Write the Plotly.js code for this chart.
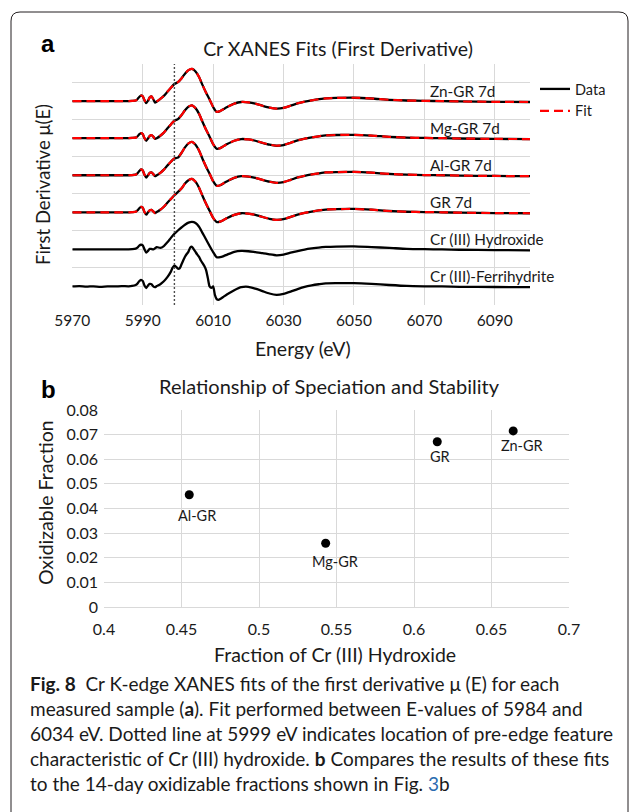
<!DOCTYPE html>
<html><head><meta charset="utf-8">
<script src="https://cdn.plot.ly/plotly-3.0.1.min.js"></script>
<style>html,body{margin:0;padding:0;background:#fff;}#chart{width:630px;height:812px;}</style>
</head><body><div id="chart"></div>
<script>
// ---------- Panel a data (first derivative, arbitrary units) ----------
const energy = [5970,5975,5980,5984,5986,5987,5988,5988.5,5989,5989.5,5990,5990.5,5991,5991.5,5992,5992.5,5993,5993.5,5994,
  5995,5996,5997,5998,5999,6000,6001,6002,6003,6004,6005,6006,6007,6008,6009,6010,6011,6012,6013,6014,
  6016,6018,6020,6022,6024,6026,6028,6030,6032,6034,6036,6038,6040,6042,6045,6050,6055,6060,6065,6070,6075,6080,6090,6100];
const znGR7d = [0,0,0,0,0,0.01,0.03,0.1,0.22,0.3,0.26,0.05,-0.11,0.02,0.2,0.25,0.1,-0.08,-0.02,
  0.12,0.28,0.5,0.72,0.92,1.02,1.22,1.48,1.67,1.74,1.6,1.3,0.86,0.45,0.08,-0.32,-0.58,-0.54,-0.43,-0.32,
  -0.14,-0.05,-0.07,-0.14,-0.25,-0.35,-0.41,-0.37,-0.25,-0.12,-0.03,0.04,0.1,0.15,0.17,0.18,0.14,0.07,0.03,0.01,0,-0.02,-0.04,-0.05];
const mgGR7d = [0,0,0,0,0,0.01,0.03,0.09,0.2,0.27,0.22,0.0,-0.14,-0.02,0.12,0.16,0.08,-0.04,0.0,
  0.13,0.3,0.52,0.74,0.94,1.03,1.24,1.5,1.7,1.77,1.62,1.31,0.87,0.45,0.08,-0.32,-0.57,-0.54,-0.43,-0.32,
  -0.14,-0.05,-0.07,-0.14,-0.25,-0.35,-0.41,-0.37,-0.25,-0.12,-0.03,0.04,0.1,0.15,0.17,0.18,0.14,0.07,0.03,0.01,0,-0.02,-0.04,-0.05];
const alGR7d = [0,0,0,0,0,0.01,0.03,0.1,0.22,0.31,0.26,0.03,-0.13,0.0,0.13,0.15,0.06,-0.05,0.0,
  0.13,0.3,0.52,0.73,0.9,0.95,1.2,1.5,1.72,1.8,1.65,1.33,0.88,0.46,0.08,-0.32,-0.57,-0.54,-0.43,-0.32,
  -0.14,-0.05,-0.07,-0.14,-0.25,-0.35,-0.41,-0.37,-0.25,-0.12,-0.03,0.04,0.1,0.15,0.17,0.18,0.14,0.07,0.03,0.01,0,-0.02,-0.04,-0.05];
const gr7d = [0,0,0,0,0,0.01,0.03,0.1,0.21,0.29,0.25,0.02,-0.13,0.0,0.11,0.13,0.05,-0.04,0.02,
  0.14,0.3,0.52,0.72,0.92,1.1,1.28,1.55,1.73,1.8,1.65,1.33,0.88,0.46,0.08,-0.3,-0.52,-0.5,-0.41,-0.31,
  -0.14,-0.05,-0.07,-0.14,-0.25,-0.35,-0.41,-0.37,-0.25,-0.12,-0.03,0.04,0.1,0.15,0.17,0.18,0.14,0.07,0.03,0.01,0,-0.02,-0.04,-0.05];
// fitted curves (visually coincident with the data)
const znGR7dFit = znGR7d, mgGR7dFit = mgGR7d, alGR7dFit = alGR7d, gr7dFit = gr7d;
const crHydroxide = [0,0,0,0,0,0.01,0.04,0.1,0.2,0.25,0.22,0.0,-0.17,-0.08,0.03,0.02,0.0,0.06,0.12,
  0.08,0.18,0.38,0.62,0.84,1.02,1.18,1.33,1.44,1.48,1.42,1.22,0.88,0.53,0.18,-0.15,-0.42,-0.42,-0.36,-0.28,
  -0.13,-0.08,-0.1,-0.15,-0.2,-0.27,-0.32,-0.28,-0.18,-0.09,-0.01,0.05,0.1,0.13,0.15,0.16,0.12,0.08,0.03,0.01,0,-0.02,-0.04,-0.05];
const energyFerri = [5970,5972,5974,5976,5978,5980,5982,5984,5986,5987,5988,5988.5,5989,5989.5,5990,5990.5,5991,5991.5,5992,5992.5,5993,5993.5,5994,
  5995,5996,5997,5998,5998.5,5999,5999.5,6000,6000.5,6001,6001.5,6002,6002.5,6003,6003.5,6004,6004.5,6005,6005.5,6006,6006.5,6007,6007.5,
  6008,6008.5,6009,6009.5,6010,6010.5,6011,6011.5,6012,6013,6014,6016,6018,6020,6022,6024,6026,6028,6030,6032,6034,6036,6038,6040,6042,
  6045,6050,6055,6060,6065,6070,6075,6080,6090,6100];
const crFerrihydrite = [0,0.02,-0.01,0.01,-0.02,0.01,0,0.02,0.01,0.03,0.08,0.15,0.28,0.36,0.3,0.05,-0.09,0.05,0.14,0.12,0.0,-0.04,0.02,
  0.12,0.28,0.5,0.8,1.02,1.12,1.06,0.96,0.98,1.18,1.4,1.6,1.75,1.88,2.1,2.14,2.0,1.86,1.72,1.6,1.4,1.26,1.1,
  0.88,0.45,0.0,-0.08,0.0,-0.45,-0.68,-0.72,-0.68,-0.55,-0.42,-0.2,-0.04,-0.02,-0.12,-0.25,-0.38,-0.45,-0.4,-0.28,-0.14,-0.02,0.06,0.12,0.17,
  0.18,0.18,0.14,0.08,0.03,0.01,0,-0.02,-0.03,-0.04];
const sampleNames = ['Cr (III)-Ferrihydrite','Cr (III) Hydroxide','GR 7d','Al-GR 7d','Mg-GR 7d','Zn-GR 7d'];
const preEdgeEnergy = 5999;
const energyTicks = [5970,5990,6010,6030,6050,6070,6090];

// ---------- Panel b data ----------
const pointLabels = ['Zn-GR','GR','Al-GR','Mg-GR'];
const fractionCrOH3 = [0.664,0.615,0.455,0.543];
const oxidizableFraction = [0.0715,0.0671,0.0456,0.0259];

// ---------- layout helpers ----------
const W = 630, H = 812;
const px = x => x / W, py = y => 1 - y / H;
const FONT = 'Lato, "Open Sans", sans-serif';
const TXT = '#1a1a1a';
const GRID = '#d9d9d9';

const series = [
  {name: sampleNames[0], x: energyFerri, y: crFerrihydrite, fit: null},
  {name: sampleNames[1], x: energy, y: crHydroxide, fit: null},
  {name: sampleNames[2], x: energy, y: gr7d, fit: gr7dFit},
  {name: sampleNames[3], x: energy, y: alGR7d, fit: alGR7dFit},
  {name: sampleNames[4], x: energy, y: mgGR7d, fit: mgGR7dFit},
  {name: sampleNames[5], x: energy, y: znGR7d, fit: znGR7dFit}
];
const offsetOf = i => 1 + 2 * i;

const traces = [];
series.slice().reverse().forEach((s, k) => {
  const i = series.length - 1 - k;
  const off = offsetOf(i);
  traces.push({x: s.x, y: s.y.map(v => v + off), type: 'scatter', mode: 'lines',
    line: {color: '#000', width: 2.3, shape: 'spline', smoothing: 0.6},
    name: 'Data', legendgroup: 'data', showlegend: i === series.length - 1,
    xaxis: 'x', yaxis: 'y', hoverinfo: 'skip'});
});
series.slice().reverse().forEach((s, k) => {
  const i = series.length - 1 - k;
  if (!s.fit) return;
  const off = offsetOf(i);
  traces.push({x: s.x, y: s.fit.map(v => v + off), type: 'scatter', mode: 'lines',
    line: {color: '#ff0000', width: 2.2, dash: '9px,5px', shape: 'spline', smoothing: 0.6},
    name: 'Fit', legendgroup: 'fit', showlegend: i === series.length - 1,
    xaxis: 'x', yaxis: 'y', hoverinfo: 'skip'});
});
traces.push({x: fractionCrOH3, y: oxidizableFraction, type: 'scatter', mode: 'markers',
  marker: {color: '#000', size: 9}, showlegend: false, xaxis: 'x2', yaxis: 'y2', hoverinfo: 'skip'});

const annotations = [];
series.forEach((s, i) => {
  annotations.push({text: s.name, x: 6070.9, y: offsetOf(i) + 0.56, xref: 'x', yref: 'y',
    xanchor: 'left', yanchor: 'middle', showarrow: false, font: {family: FONT, size: 15.3, color: TXT}});
});
const labelShift = [[9, -15], [3, -15], [8, -21], [9, -18]];
pointLabels.forEach((t, i) => {
  annotations.push({text: t, x: fractionCrOH3[i], y: oxidizableFraction[i], xref: 'x2', yref: 'y2',
    xshift: labelShift[i][0], yshift: labelShift[i][1], xanchor: 'center', yanchor: 'middle', showarrow: false,
    font: {family: FONT, size: 14.5, color: TXT}});
});
const ann = (text, x, y, opts) => Object.assign({text, x: px(x), y: py(y), xref: 'paper', yref: 'paper',
  showarrow: false, xanchor: 'center', yanchor: 'middle', font: {family: FONT, size: 17, color: TXT}}, opts || {});
annotations.push(ann('<b>a</b>', 48, 43, {font: {family: 'Liberation Sans, Arial, sans-serif', size: 24, color: '#000'}}));
annotations.push(ann('<b>b</b>', 48, 389, {font: {family: 'Liberation Sans, Arial, sans-serif', size: 24, color: '#000'}}));
annotations.push(ann('First Derivative μ(E)', 43, 184, {textangle: -90, font: {family: FONT, size: 18.5, color: TXT}}));
annotations.push(ann('Energy (eV)', 303, 348, {font: {family: FONT, size: 19.5, color: TXT}}));
annotations.push(ann('Relationship of Speciation and Stability', 329, 386, {font: {family: FONT, size: 20, color: TXT}}));
annotations.push(ann('Oxidizable Fraction', 45, 503, {textangle: -90, font: {family: FONT, size: 19.5, color: TXT}}));
annotations.push(ann('Fraction of Cr (III) Hydroxide', 335, 654, {font: {family: FONT, size: 19.5, color: TXT}}));

const CAP = 'Lato, "Noto Sans", sans-serif';
const capLines = [
  '<b>Fig. 8</b>\u00a0\u00a0Cr K-edge XANES fits of the first derivative μ (E) for each',
  'measured sample (<b>a</b>). Fit performed between E-values of 5984 and',
  '6034 eV. Dotted line at 5999 eV indicates location of pre-edge feature',
  'characteristic of Cr (III) hydroxide. <b>b</b> Compares the results of these fits',
  'to the 14-day oxidizable fractions shown in Fig. <span style="color:#2b6cb0">3</span>b'
];
capLines.forEach((t, i) => annotations.push(ann(t, 28, 683 + 25 * i,
  {xanchor: 'left', font: {family: CAP, size: 19, color: '#1a1a1a'}})));

// rounded frame
const fx0 = 11, fy0 = 12, fx1 = 628, fy1 = 830, r = 9;
const P = (x, y) => px(x) + ',' + py(y);
const framePath = 'M' + P(fx0, fy1) + ' L' + P(fx0, fy0 + r) + ' Q' + P(fx0, fy0) + ' ' + P(fx0 + r, fy0) +
  ' L' + P(fx1 - r, fy0) + ' Q' + P(fx1, fy0) + ' ' + P(fx1, fy0 + r) + ' L' + P(fx1, fy1);

const layout = {
  width: W, height: H, margin: {l: 0, r: 0, t: 0, b: 0},
  paper_bgcolor: '#fff', plot_bgcolor: '#fff',
  font: {family: FONT, color: TXT},
  title: {text: 'Cr XANES Fits (First Derivative)', x: px(338), y: py(49), xref: 'paper', yref: 'paper',
    xanchor: 'center', yanchor: 'middle', font: {family: FONT, size: 19.5, color: TXT}},
  showlegend: true,
  legend: {x: px(535), y: py(73), xanchor: 'left', yanchor: 'top', bgcolor: 'rgba(0,0,0,0)',
    font: {family: FONT, size: 14.5, color: TXT}, tracegroupgap: 0, itemwidth: 30},
  xaxis: {domain: [px(72.3), px(530)], range: [5970, 6100], tickvals: energyTicks, ticktext: energyTicks.map(String),
    showgrid: true, gridcolor: GRID, zeroline: false, showline: false, ticks: '', ticklabelstandoff: 4,
    tickfont: {family: FONT, size: 15.5, color: TXT}, anchor: 'y', fixedrange: true},
  yaxis: {domain: [py(305), py(64)], range: [0, 13], dtick: 1, tick0: 0, showticklabels: false,
    showgrid: true, gridcolor: GRID, zeroline: false, showline: false, ticks: '', anchor: 'x', fixedrange: true},
  xaxis2: {domain: [px(104), px(569)], range: [0.4, 0.7], dtick: 0.05, tick0: 0.4,
    showgrid: true, gridcolor: GRID, zeroline: false, showline: true, linecolor: GRID, ticks: '', ticklabelstandoff: 8,
    tickfont: {family: FONT, size: 16, color: TXT}, anchor: 'y2', fixedrange: true},
  yaxis2: {domain: [py(607), py(410)], range: [0, 0.08], dtick: 0.01, tick0: 0,
    showgrid: true, gridcolor: GRID, zeroline: false, showline: false, ticks: '', ticklabelstandoff: 5,
    tickfont: {family: FONT, size: 16, color: TXT}, anchor: 'x2', fixedrange: true},
  shapes: [
    {type: 'line', xref: 'x', yref: 'y domain', x0: preEdgeEnergy, x1: preEdgeEnergy, y0: 0, y1: 1,
      line: {color: '#4d4d4d', width: 1.4, dash: '2px,2px'}},
    {type: 'path', xref: 'paper', yref: 'paper', path: framePath, line: {color: '#231f20', width: 1}}
  ],
  annotations: annotations
};
Plotly.newPlot('chart', traces, layout, {staticPlot: true, displayModeBar: false});
</script></body></html>
